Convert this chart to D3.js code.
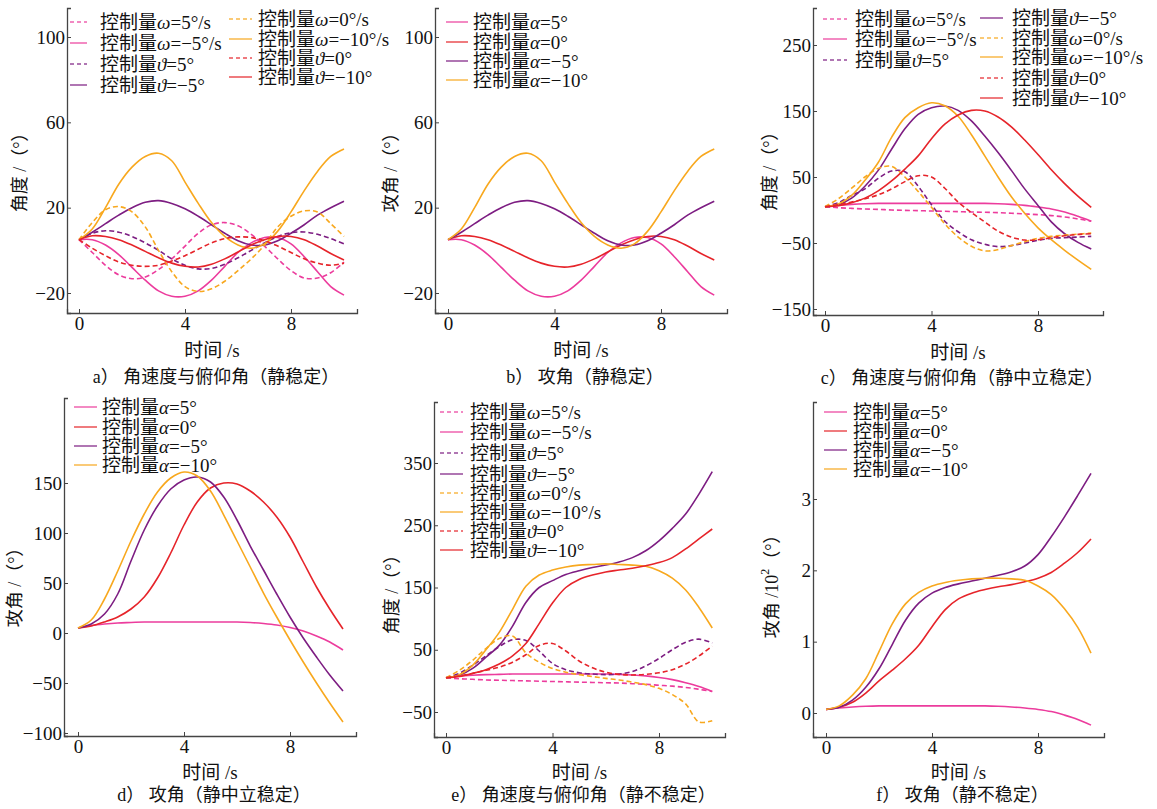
<!DOCTYPE html>
<html>
<head>
<meta charset="utf-8">
<script src="https://cdn.jsdelivr.net/npm/d3@7"></script>
<style>
  body { margin: 0; background: #fff; }
  text { font-family: "Liberation Serif", "Noto Sans CJK SC", serif; fill: #111; }
</style>
</head>
<body>
<svg id="chart" width="1157" height="809"></svg>
<script>
// sample times (s)
const time = [0,0.5,1,1.5,2,2.5,3,3.5,4,4.5,5,5.5,6,6.5,7,7.5,8,8.5,9,9.5,10]

// a) dashed curves, degrees
const aOmega5  = [5,-1,-7,-11.5,-13.3,-12.5,-9,-4,2,8,12,13,11.5,7.5,2,-4,-9.5,-13,-13,-10.5,-5.5]
const aOmega0  = [5,13,19,20.5,18,11,0,-10,-17,-19.3,-18,-14.5,-9.5,-4,2.5,11,16,18.5,18,12.5,6.5]
const aTheta5  = [5,8,9.2,8.5,6.5,3.5,0,-4,-7,-8.7,-8.5,-6.5,-3.5,0,3.5,6.5,8.3,8.6,7.5,5.5,3]
const aTheta0  = [5,1,-2.5,-5.5,-7,-7.5,-7,-5,-2.5,0.5,3.5,5.5,6.3,6,4.5,2,-1,-4,-6,-7,-6]
// a) solid curves = b) attack angle curves
const abAlpha5   = [5,5,2.5,-2,-8,-14,-19,-21.5,-21.5,-19,-14,-7.5,-1,3.5,6,6,3,-3,-10,-17,-21]
const abAlpha0   = [5,6.8,6.5,5,2.5,-0.5,-3.5,-6,-7.5,-7.8,-6.5,-4,-0.8,2.5,5,6.5,6.5,5,2,-1.5,-4.5]
const abAlphaM5  = [5,8.5,12.5,16.5,20,22.5,23.3,22,19.5,16,12,8,4.5,2.5,2.5,4.5,8,12,16.5,20,23]
const abAlphaM10 = [5,10,20,31,39,44,45.5,42,32,22,13,6.5,2.5,1,3,9,18,28,37,44,47.5]

// c) neutral stability
const cOmega5   = [5,3.5,2.5,1.5,1,0,-0.5,-1,-1.5,-2,-2.5,-3,-3.5,-4,-5,-6,-7,-8.5,-10.5,-13.5,-17]
const cOmegaM5  = [5,7,8.5,9.5,10,10,10,10,10,10,10,10,10,9.5,8.5,7,4.5,1.5,-3,-9.5,-17]
const cTheta5   = [5,11,22,32,48,59,58,36,8,-17,-33,-45,-52,-55.5,-54,-50,-46,-43,-42,-41,-40]
const cThetaM5  = [5,8,18,36,60,92,123,145,155,157.5,151,135,112,87,60,32,7,-18,-36,-49,-59]
const cOmega0   = [5,17,33,50,63,66,50,28,4,-21,-41,-55,-62,-60,-54,-48,-43,-40,-38,-36.5,-35]
const cOmegaM10 = [5,9,22,45,72,110,140,155,162.5,158,142,114,82,50,20,-5,-27,-45,-61,-76,-90]
const cTheta0   = [5,8,12,17,23,32,43,52,50,33,12,-4,-18,-32,-41,-45.5,-45,-42,-39,-37,-36]
const cThetaM10 = [5,6.5,11,18,29,44,62,82,108,130,144,151,150,141,126,106,84,61,40,21,4]

// d) attack angle, neutral stability
const dAlpha5   = [5,7.5,9,10,10.5,11,11,11,11,11,11,11,11,10.5,9.5,8,5.5,2,-3,-9,-17]
const dAlpha0   = [5,7,11,16,24,36,55,80,108,131,145,150,149,142,131,116,96,71,46,24,4]
const dAlphaM5  = [5,9,19,39,72,103,127,144,153,156,151,136,113,87,63,39,16,-5,-24,-42,-58]
const dAlphaM10 = [5,13,34,62,92,119,141,155,161,157,142,118,92,66,40,16,-7,-29,-50,-70,-89]

// e) unstable
const eOmega5   = [5,3.5,2.5,1.5,1,0.5,0,-0.5,-1,-1.5,-2,-2.5,-3,-3.5,-4.5,-5.5,-7,-8.5,-10.5,-13.5,-17]
const eOmegaM5  = [5,7.5,9,10,10.5,11,11,11,11,11,11,11,11,10.5,9.5,8,5.5,2,-3,-9,-17]
const eTheta5   = [5,12,25,40,55,66,65,48,28,18,13,11,10,11,15,24,36,50,62,67,61]
const eThetaM5  = [5,9,20,38,57,88,126,150,161,171,177,182,186,191,198,209,225,245,268,300,336]
const eOmega0   = [5,17,33,52,68,72,45,30,20,14,10,7,4,1.5,-2,-6,-12,-22,-37,-66,-64]
const eOmegaM10 = [5,10,25,50,78,115,152,170,178,183,186,187,188,187,186,184,177,165,146,118,85]
const eTheta0   = [5,8,12,17,22,30,42,57,60,48,32,21,14,10.5,9.5,10.5,13,18,27,40,56]
const eThetaM10 = [5,7,12,18,27,40,60,92,125,150,163,170,175,178,181,185,190,198,212,228,244]

// f) attack angle, unstable (x10^2 deg)
const fAlpha5   = [0.05,0.07,0.085,0.095,0.1,0.1,0.1,0.1,0.1,0.1,0.1,0.1,0.1,0.095,0.085,0.07,0.05,0.02,-0.03,-0.09,-0.17]
const fAlpha0   = [0.05,0.08,0.15,0.28,0.45,0.6,0.76,0.95,1.21,1.45,1.6,1.68,1.73,1.77,1.8,1.84,1.89,1.97,2.1,2.25,2.44]
const fAlphaM5  = [0.05,0.08,0.18,0.36,0.62,0.96,1.3,1.54,1.68,1.76,1.81,1.85,1.89,1.93,1.98,2.06,2.22,2.47,2.75,3.05,3.36]
const fAlphaM10 = [0.05,0.1,0.25,0.48,0.86,1.25,1.53,1.69,1.78,1.83,1.86,1.88,1.89,1.89,1.88,1.86,1.78,1.66,1.46,1.2,0.84]

const xTicks = [0,4,8]

const pink = "#ec3c9d", purple = "#7d1d82", orange = "#f8a81e", red = "#e6242a"

// legend label pieces: symbol (italic) + rest
function s(v, c, dash, sym, rest) { return {v, c, dash, sym, rest} }

const panels = [
  { box: [67,8,357,313], xA: [79,291], yA: [[-20,293],[100,37]], yTicks: [-20,20,60,100],
    yLabel: "角度 /（°）", yLab: [20,168], xLabY: 350, cap: "a）  角速度与俯仰角（静稳定）", capY: 377,
    series: [s(aOmega5,pink,1,"ω","=5°/s"), s(abAlpha5,pink,0,"ω","=−5°/s"), s(aTheta5,purple,1,"ϑ","=5°"), s(abAlphaM5,purple,0,"ϑ","=−5°"),
             s(aOmega0,orange,1,"ω","=0°/s"), s(abAlphaM10,orange,0,"ω","=−10°/s"), s(aTheta0,red,1,"ϑ","=0°"), s(abAlpha0,red,0,"ϑ","=−10°")],
    legend: [{l:[70,87], tx:100, rows:[22,43,64,85], idx:[0,1,2,3]}, {l:[229,252], tx:258, rows:[19,39,58,77], idx:[4,5,6,7]}] },
  { box: [435,8,727,313], xA: [448,661], yA: [[-20,293],[100,37]], yTicks: [-20,20,60,100],
    yLabel: "攻角 /（°）", yLab: [391,168], xLabY: 350, cap: "b）  攻角（静稳定）", capY: 377,
    series: [s(abAlpha5,pink,0,"α","=5°"), s(abAlpha0,red,0,"α","=0°"), s(abAlphaM5,purple,0,"α","=−5°"), s(abAlphaM10,orange,0,"α","=−10°")],
    legend: [{l:[446,468], tx:473, rows:[22,42,61,80], idx:[0,1,2,3]}] },
  { box: [813,8,1103,315], xA: [825,1038], yA: [[-150,309],[250,45]], yTicks: [-150,-50,50,150,250],
    yLabel: "角度 /（°）", yLab: [770,167], xLabY: 352, cap: "c）  角速度与俯仰角（静中立稳定）", capY: 378,
    series: [s(cOmega5,pink,1,"ω","=5°/s"), s(cOmegaM5,pink,0,"ω","=−5°/s"), s(cTheta5,purple,1,"ϑ","=5°"), s(cThetaM5,purple,0,"ϑ","=−5°"),
             s(cOmega0,orange,1,"ω","=0°/s"), s(cOmegaM10,orange,0,"ω","=−10°/s"), s(cTheta0,red,1,"ϑ","=0°"), s(cThetaM10,red,0,"ϑ","=−10°")],
    legend: [{l:[823,847], tx:855, rows:[19,39,60], idx:[0,1,2]}, {l:[980,1003], tx:1012, rows:[18,38,57,78,98], idx:[3,4,5,6,7]}] },
  { box: [64,398,356,736], xA: [78,290], yA: [[-100,733],[150,483]], yTicks: [-100,-50,0,50,100,150],
    yLabel: "攻角 /（°）", yLab: [15,583], xLabY: 772, cap: "d）  攻角（静中立稳定）", capY: 795,
    series: [s(dAlpha5,pink,0,"α","=5°"), s(dAlpha0,red,0,"α","=0°"), s(dAlphaM5,purple,0,"α","=−5°"), s(dAlphaM10,orange,0,"α","=−10°")],
    legend: [{l:[74,97], tx:102, rows:[407,427,446,465], idx:[0,1,2,3]}] },
  { box: [434,402,725,737], xA: [446,659], yA: [[-50,712],[350,463]], yTicks: [-50,50,150,250,350],
    yLabel: "角度 /（°）", yLab: [392,590], xLabY: 772, cap: "e）  角速度与俯仰角（静不稳定）", capY: 795,
    series: [s(eOmega5,pink,1,"ω","=5°/s"), s(eOmegaM5,pink,0,"ω","=−5°/s"), s(eTheta5,purple,1,"ϑ","=5°"), s(eThetaM5,purple,0,"ϑ","=−5°"),
             s(eOmega0,orange,1,"ω","=0°/s"), s(eOmegaM10,orange,0,"ω","=−10°/s"), s(eTheta0,red,1,"ϑ","=0°"), s(eThetaM10,red,0,"ϑ","=−10°")],
    legend: [{l:[440,463], tx:470, rows:[412,432,453,474,493,512,531,550], idx:[0,1,2,3,4,5,6,7]}] },
  { box: [813,402,1104,737], xA: [826,1038], yA: [[0,713],[3,499]], yTicks: [0,1,2,3],
    yLabel: null, yLab: [772,582], xLabY: 772, cap: "f）  攻角（静不稳定）", capY: 795,
    series: [s(fAlpha5,pink,0,"α","=5°"), s(fAlpha0,red,0,"α","=0°"), s(fAlphaM5,purple,0,"α","=−5°"), s(fAlphaM10,orange,0,"α","=−10°")],
    legend: [{l:[824,847], tx:853, rows:[412,431,450,469], idx:[0,1,2,3]}] }
]

const svg = d3.select("#chart")
const FONT = '"Liberation Serif","Noto Sans CJK SC",serif'
const intFmt = d3.format("d")

panels.forEach(p => {
  const [L, T, R, B] = p.box
  //scales anchored on two known ticks, then stretched to the axis ends
  const xa = d3.scaleLinear().domain([0, 8]).range(p.xA)
  const x = d3.scaleLinear().domain([xa.invert(L), xa.invert(R)]).range([L, R])
  const ya = d3.scaleLinear().domain([p.yA[0][0], p.yA[1][0]]).range([p.yA[0][1], p.yA[1][1]])
  const y = d3.scaleLinear().domain([ya.invert(B), ya.invert(T)]).range([B, T])

  const g = svg.append("g")

  const line = d3.line()
    .x((d, i) => x(time[i]))
    .y(d => y(d))
    .curve(d3.curveCatmullRom.alpha(0.5))

  p.series.forEach(se => {
    g.append("path")
      .datum(se.v)
      .attr("fill", "none")
      .attr("stroke", se.c)
      .attr("stroke-width", 1.6)
      .attr("stroke-dasharray", se.dash ? "5,3" : null)
      .attr("d", line)
  })

  const xAxis = g.append("g")
    .attr("transform", "translate(0," + B + ")")
    .call(d3.axisBottom(x).tickValues(xTicks).tickFormat(intFmt).tickSize(-4).tickPadding(4))
  const yAxis = g.append("g")
    .attr("transform", "translate(" + L + ",0)")
    .call(d3.axisLeft(y).tickValues(p.yTicks).tickFormat(intFmt).tickSize(-4).tickPadding(2))
  ;[xAxis, yAxis].forEach(a => {
    a.attr("font-family", FONT).attr("font-size", 19).attr("color", "#444")
    a.select(".domain").attr("stroke-width", 1.3)
    a.selectAll("text").attr("fill", "#111")
  })

  // axis titles and caption
  const cx = (L + R) / 2
  g.append("text").attr("x", cx).attr("y", p.xLabY).attr("text-anchor", "middle")
    .attr("dominant-baseline", "central").attr("font-size", 19).text("时间 /s")
  g.append("text").attr("x", cx + 4).attr("y", p.capY).attr("text-anchor", "middle")
    .attr("dominant-baseline", "central").attr("font-size", 18).text(p.cap)

  const yl = g.append("text")
    .attr("transform", "translate(" + p.yLab[0] + "," + p.yLab[1] + ") rotate(-90)")
    .attr("text-anchor", "middle").attr("dominant-baseline", "central").attr("font-size", 18)
  if (p.yLabel) yl.text(p.yLabel)
  else {
    yl.append("tspan").text("攻角 /10")
    yl.append("tspan").attr("font-size", 12).attr("dy", -7).text("2")
    yl.append("tspan").attr("dy", 7).text("（°）")
  }

  // legend
  p.legend.forEach(col => {
    col.idx.forEach((k, r) => {
      const se = p.series[k], ry = col.rows[r]
      g.append("line")
        .attr("x1", col.l[0]).attr("x2", col.l[1]).attr("y1", ry).attr("y2", ry)
        .attr("stroke", se.c).attr("stroke-width", 1.5).attr("opacity", 0.8)
        .attr("stroke-dasharray", se.dash ? "4,3" : null)
      const t = g.append("text").attr("x", col.tx).attr("y", ry)
        .attr("dominant-baseline", "central").attr("font-size", 19)
      t.append("tspan").text("控制量")
      t.append("tspan").attr("font-style", "italic").text(se.sym)
      t.append("tspan").text(se.rest)
    })
  })
})
</script>
</body>
</html>
